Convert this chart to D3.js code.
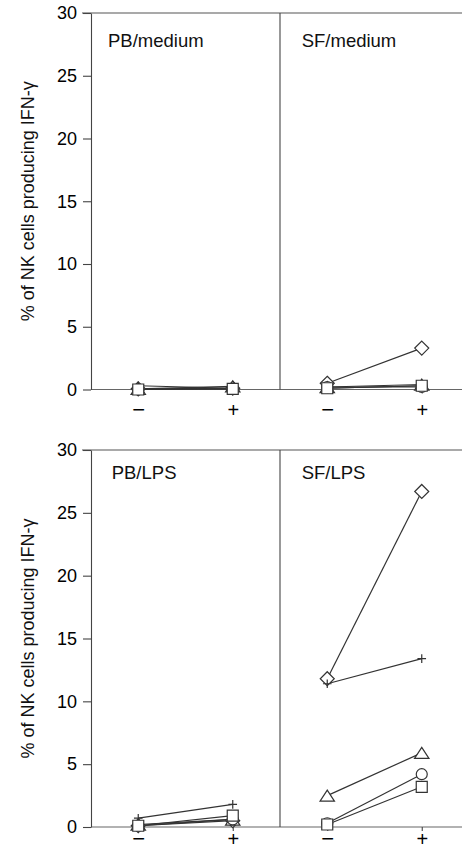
<!DOCTYPE html>
<html>
<head>
<meta charset="utf-8">
<script src="https://cdn.jsdelivr.net/npm/d3@7"></script>
<style>
  html, body { margin: 0; padding: 0; background: #fff; }
  svg { display: block; font-family: "Liberation Sans", Arial, Helvetica, sans-serif; }
</style>
</head>
<body>
<svg id="chart" width="462" height="849"></svg>
<script>
// ---- data ----
const conditions = ["\u2212", "+"];
const yTicks = [0, 5, 10, 15, 20, 25, 30];
const donorShapes = ["diamond", "plus", "triangle", "circle", "square"];
const yTitle = "% of NK cells producing IFN-\u03b3";

// values per donor (order of donorShapes): [−, +]
const pbMedium = [[0.05, 0.1], [0.3, 0.1], [0.05, 0.25], [0.0, 0.05], [0.0, 0.05]];
const sfMedium = [[0.5, 3.3], [0.1, 0.3], [0.2, 0.4], [0.2, 0.2], [0.1, 0.3]];
const pbLps = [[0.1, 0.5], [0.7, 1.8], [0.2, 0.6], [0.1, 0.6], [0.1, 0.9]];
const sfLps = [[11.8, 26.7], [11.4, 13.4], [2.5, 5.9], [0.3, 4.2], [0.2, 3.2]];

const rowLabels = [["PB/medium", "SF/medium"], ["PB/LPS", "SF/LPS"]];
const rowData = [[pbMedium, sfMedium], [pbLps, sfLps]];

// ---- layout ----
const svg = d3.select("#chart");
const axisX = 91, subW = 189;
const rows = [{ top: 13, bottom: 389.5, labelY: 46.5, labelDx: [17, 21.7], xLabelY: 27 },
              { top: 450, bottom: 827, labelY: 479, labelDx: [20.7, 21.7], xLabelY: 18.5 }];
const ink = "#333";

// custom symbols (size = half-extent in px)
const shapes = {
  diamond: { draw(c, r) { c.moveTo(0, -r); c.lineTo(r, 0); c.lineTo(0, r); c.lineTo(-r, 0); c.closePath(); } },
  plus: { draw(c, r) { c.moveTo(-r, 0); c.lineTo(r, 0); c.moveTo(0, -r); c.lineTo(0, r); } },
  triangle: { draw(c, r) { const h = r * 0.76; c.moveTo(0, -h); c.lineTo(r, h * 0.75 + 1.5); c.lineTo(-r, h * 0.75 + 1.5); c.closePath(); } },
  circle: { draw(c, r) { c.moveTo(r, 0); c.arc(0, 0, r, 0, 2 * Math.PI); } },
  square: { draw(c, r) { c.rect(-r, -r, 2 * r, 2 * r); } }
};
const shapeSize = { diamond: 7, plus: 4.3, triangle: 7.2, circle: 5.5, square: 5.5 };

rows.forEach((row, ri) => {
  const y = d3.scaleLinear().domain([0, 30]).range([row.bottom, row.top]);
  const g = svg.append("g");

  // top border line
  g.append("line").attr("x1", 82).attr("x2", 462)
    .attr("y1", y(30)).attr("y2", y(30)).attr("stroke", "#555").attr("stroke-width", 1.1);
  // baseline
  g.append("line").attr("x1", axisX).attr("x2", 462)
    .attr("y1", y(0)).attr("y2", y(0)).attr("stroke", "#666").attr("stroke-width", 1.1);

  // y axis
  const yAxis = d3.axisLeft(y).tickValues(yTicks).tickSize(8).tickSizeOuter(0).tickPadding(6);
  const ya = g.append("g").attr("transform", `translate(${axisX},0)`).call(yAxis);
  ya.select(".domain").attr("stroke", "#444").attr("stroke-width", 1.1);
  ya.selectAll(".tick line").attr("stroke", "#444").attr("stroke-width", 1.1);
  ya.selectAll(".tick text").attr("font-size", 18).attr("fill", "#000")
    .attr("font-family", "Liberation Sans, Arial, sans-serif");

  // y title
  g.append("text")
    .attr("transform", `translate(34,${(row.top + row.bottom) / 2}) rotate(-90)`)
    .attr("text-anchor", "middle").attr("font-size", 18).attr("fill", "#111")
    .text(yTitle);

  // divider
  g.append("line").attr("x1", axisX + subW).attr("x2", axisX + subW)
    .attr("y1", y(30)).attr("y2", y(0)).attr("stroke", "#444").attr("stroke-width", 1.1);

  [0, 1].forEach(si => {
    const x0 = axisX + si * subW;
    const x = d3.scalePoint().domain(conditions).range([x0, x0 + subW]).padding(0.5);

    // x axis ticks & labels
    const xAxis = d3.axisBottom(x).tickSize(4).tickSizeOuter(0).tickPadding(8);
    const xa = g.append("g").attr("transform", `translate(0,${y(0)})`).call(xAxis);
    xa.select(".domain").remove();
    xa.selectAll(".tick line").attr("stroke", "#444").attr("stroke-width", 1.1);
    xa.selectAll(".tick text")
      .attr("font-size", d => d === "+" ? 20 : 22).attr("fill", "#000")
      .attr("dy", null).attr("y", row.xLabelY)
      .attr("font-family", "Liberation Sans, Arial, sans-serif");

    // panel label
    g.append("text").attr("x", x0 + row.labelDx[si]).attr("y", row.labelY)
      .attr("font-size", 18.5).attr("fill", "#111").text(rowLabels[ri][si]);

    const data = rowData[ri][si];
    const line = d3.line().x((d, i) => x(conditions[i])).y(d => y(d));

    // lines
    g.append("g").selectAll("path").data(data).join("path")
      .attr("d", d => line(d)).attr("fill", "none")
      .attr("stroke", ink).attr("stroke-width", 1.2);

    // markers
    data.forEach((vals, di) => {
      const shape = donorShapes[di];
      const sym = d3.symbol().type(shapes[shape]).size(shapeSize[shape]);
      vals.forEach((v, ci) => {
        g.append("path").attr("d", sym())
          .attr("transform", `translate(${x(conditions[ci])},${y(v)})`)
          .attr("fill", shape === "plus" ? "none" : "#fff")
          .attr("stroke", ink).attr("stroke-width", 1.2);
      });
    });
  });
});
</script>
</body>
</html>
